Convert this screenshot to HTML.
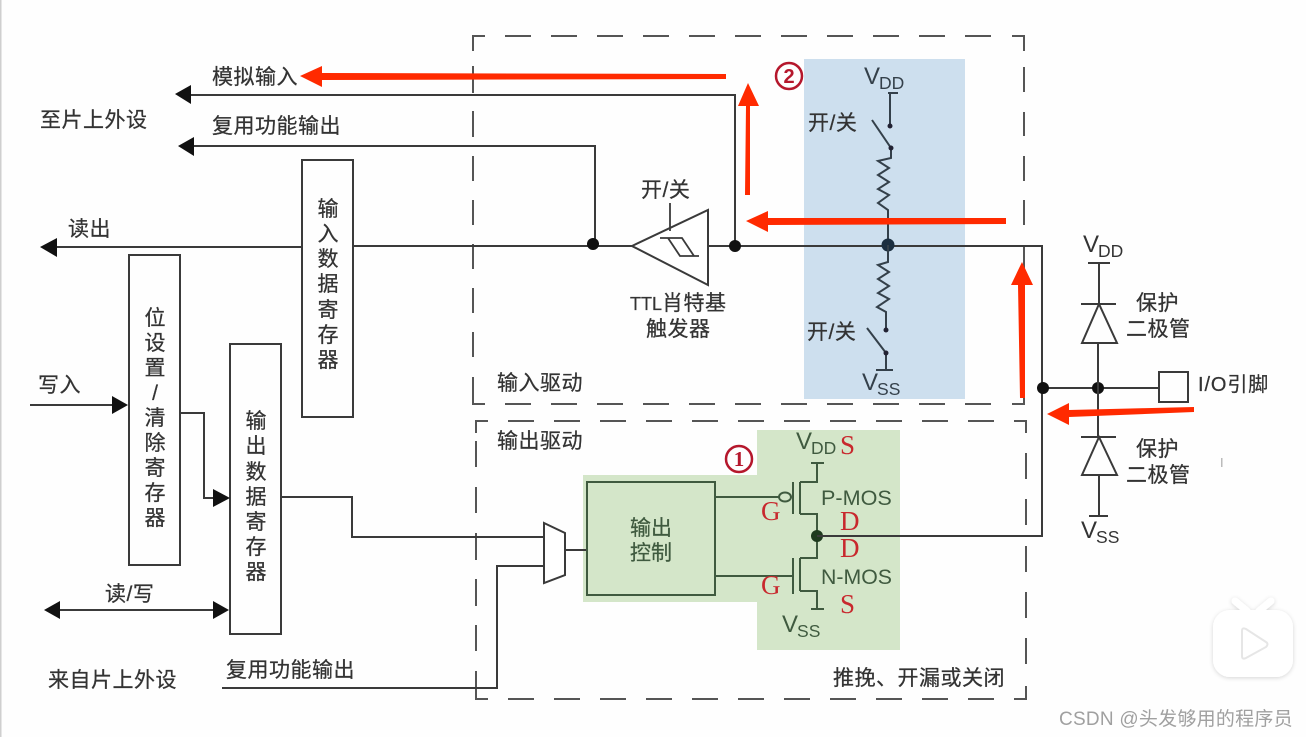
<!DOCTYPE html>
<html><head><meta charset="utf-8"><style>
html,body{margin:0;padding:0;background:#fff}
svg{display:block;position:absolute;left:0;top:0;filter:blur(.35px)}
text{font-family:"Liberation Sans","Noto Sans CJK SC",sans-serif;fill:#333}
.c{font-size:21px;letter-spacing:.5px;stroke:#333;stroke-width:.25px}
.v{font-size:21px;text-anchor:middle;stroke:#333;stroke-width:.25px}
.l{font-size:24px}
.s{font-size:17.5px}
.r{font-family:"Liberation Serif",serif;font-size:27px;fill:#c8282d}
.w{fill:none;stroke:#3a3a3a;stroke-width:2}
.g{fill:none;stroke:#3f5a3f;stroke-width:2}
.d{fill:none;stroke:#555;stroke-width:2}
.k{fill:#111}
.rd{fill:#ff2a00}
</style></head><body>
<svg width="1306" height="737" viewBox="0 0 1306 737" xmlns="http://www.w3.org/2000/svg">
<rect width="1306" height="737" fill="#fefefe"/>
<rect x="0" y="0" width="1.5" height="737" fill="#cfcfcf"/>

<!-- shaded areas -->
<rect x="804" y="59" width="161" height="340" fill="#cddfee"/>
<rect x="583" y="475" width="175" height="127" fill="#d4e6c9"/>
<rect x="757" y="430" width="143" height="220" fill="#d4e6c9"/>

<!-- dashed boxes -->
<path class="d" d="M485 36H473V51M505 36h26M551 36h26M597 36h26M643 36h26M689 36h26M735 36h26M781 36h26M827 36h26M873 36h26M919 36h26M965 36h26M1012 36H1024V51
M473 66V93M473 111V137M473 156V181M473 200V225M473 244V269M473 288V313M473 332V357M473 377V404H485
M505 404h26M551 404h26M597 404h26M643 404h26M689 404h26M735 404h26M781 404h26M827 404h26M873 404h26M919 404h26M965 404h26M1012 404H1024V378
M1024 67V92M1024 112V136M1024 156V181M1024 200V225M1024 245V271M1024 289V315M1024 333V359"/>
<path class="d" d="M488 421H476V433M508 421h26M554 421h26M600 421h26M646 421h26M692 421h26M738 421h26M784 421h26M830 421h26M876 421h26M922 421h26M968 421h26M1014 421H1026V433
M476 441V467M476 487V513M476 533V560M476 579V606M476 625V651M476 671V699H488
M508 699h26M554 699h26M600 699h26M646 699h26M692 699h26M738 699h26M784 699h26M830 699h26M876 699h26M922 699h26M968 699h26M1014 699H1026V686
M1026 453V479M1026 499V525M1026 546V572M1026 592V618M1026 638V664"/>

<!-- registers -->
<rect class="w" x="302" y="160" width="51" height="257" fill="none"/>
<rect class="w" x="129" y="255" width="51" height="310"/>
<rect class="w" x="230" y="344" width="51" height="290"/>

<!-- left wires -->
<path class="w" d="M188 95H735V245"/>
<polygon class="k" points="175,94 191,85 191,104"/>
<path class="w" d="M192 146H595V244"/>
<polygon class="k" points="178,146 194,137 194,156"/>
<path class="w" d="M54 247H302"/>
<polygon class="k" points="40,247 57,238 57,257"/>
<path class="w" d="M353 246H632"/>
<path class="w" d="M30 405H114"/>
<polygon class="k" points="128,405 112,396 112,414"/>
<path class="w" d="M180 413H204V498H216"/>
<polygon class="k" points="230,498 213,489 213,507"/>
<path class="w" d="M58 610H216"/>
<polygon class="k" points="44,610 60,601 60,619"/>
<polygon class="k" points="229,610 213,601 213,619"/>
<path class="w" d="M281 497H352V537H544"/>
<path class="w" d="M222 688H497V566H544"/>

<!-- mux -->
<polygon points="544,523 565,533 565,575 544,583" fill="#fff" stroke="#3a3a3a" stroke-width="2"/>
<path class="w" d="M565 550H587"/>

<!-- output control -->
<rect class="g" x="587" y="482" width="128" height="113"/>
<path class="g" d="M715 497H780"/>
<ellipse cx="785" cy="497" rx="6" ry="4.5" class="g"/>
<path class="g" d="M715 576H793"/>
<path class="g" d="M793 482V514M793 558V594"/>
<path class="g" d="M800 482V514M800 558V591"/>
<path class="g" d="M800 482H817V463M811 463H824"/>
<path class="g" d="M800 514H817V558H800"/>
<path class="g" d="M800 591H817V609M811 609H824"/>
<circle cx="817" cy="536" r="6" fill="#1e3a1e"/>
<path class="w" d="M817 536H1042V245"/>

<!-- main line -->
<path class="w" d="M708 246H1042"/>
<circle cx="593" cy="244" r="6" class="k"/>
<circle cx="735" cy="246" r="6" class="k"/>

<!-- trigger -->
<polygon points="632,246 708,210 708,285" fill="#fff" stroke="#3a3a3a" stroke-width="2"/>
<path class="w" d="M670 203V231M660 238H682L694 256M668 238L680 256H699" style="stroke-width:1.8"/>

<!-- pull-up / pull-down -->
<path class="w" d="M888 93H898M890 93V126" style="stroke:#34404a"/>
<circle cx="890" cy="126" r="2.5" fill="#223"/>
<path class="w" d="M872 120L891 148V158L878 161L889 168L878 175L889 182L878 189L889 195L878 203L888 210V245" style="stroke:#34404a"/>
<circle cx="891" cy="148" r="2.5" fill="#223"/>
<circle cx="888" cy="245" r="6.5" fill="#1c2f40"/>
<path class="w" d="M888 245V262L878 265L889 272L878 279L889 286L878 293L889 299L877 307L886 312V330" style="stroke:#34404a"/>
<circle cx="886" cy="330" r="2.5" fill="#223"/>
<path class="w" d="M867 328L886 353V370M876 370H893" style="stroke:#34404a"/>
<circle cx="886" cy="353" r="2.5" fill="#223"/>

<!-- right side -->
<path class="w" d="M1043 388H1159"/>
<circle cx="1043" cy="388" r="6" class="k"/>
<circle cx="1098" cy="388" r="6" class="k"/>
<rect class="w" x="1159" y="372" width="29" height="30"/>
<path class="w" d="M1088 263H1110M1099 263V304M1081 304H1116M1098 343V437M1081 437H1116M1099 475V516M1089 516H1108"/>
<polygon class="w" points="1099,304 1082,343 1117,343"/>
<polygon class="w" points="1099,437 1082,475 1117,475"/>
<rect x="1221" y="458" width="1.5" height="9" fill="#bbb"/>

<!-- labels -->
<text class="c" x="212" y="84">模拟输入</text>
<text class="c" x="212" y="133">复用功能输出</text>
<text class="c" x="40" y="127">至片上外设</text>
<text class="c" x="68" y="236">读出</text>
<text class="c" x="38" y="392">写入</text>
<text class="c" x="105" y="601">读/写</text>
<text class="c" x="226" y="677">复用功能输出</text>
<text class="c" x="48" y="687">来自片上外设</text>
<text class="c" x="497" y="390">输入驱动</text>
<text class="c" x="497" y="448">输出驱动</text>
<text class="c" x="833" y="685">推挽、开漏或关闭</text>
<text class="c" x="641" y="197">开/关</text>
<text class="c" x="630" y="310"><tspan style="font-size:18px;letter-spacing:0">TTL</tspan>肖特基</text>
<text class="c" x="646" y="336">触发器</text>
<text class="c" x="808" y="130">开/关</text>
<text class="c" x="807" y="339">开/关</text>
<text class="c" x="1136" y="310">保护</text>
<text class="c" x="1126" y="336">二极管</text>
<text class="c" x="1136" y="456">保护</text>
<text class="c" x="1126" y="482">二极管</text>
<text class="c" x="1198" y="391" style="font-size:20px;letter-spacing:.9px">I/O引脚</text>

<g>
<text class="v" x="328" y="216">输</text><text class="v" x="328" y="241">入</text><text class="v" x="328" y="266">数</text><text class="v" x="328" y="291">据</text><text class="v" x="328" y="317">寄</text><text class="v" x="328" y="342">存</text><text class="v" x="328" y="367">器</text>
<text class="v" x="155" y="325">位</text><text class="v" x="155" y="350">设</text><text class="v" x="155" y="375">置</text><text class="v" x="155" y="400">/</text><text class="v" x="155" y="425">清</text><text class="v" x="155" y="450">除</text><text class="v" x="155" y="475">寄</text><text class="v" x="155" y="500">存</text><text class="v" x="155" y="525">器</text>
<text class="v" x="256" y="428">输</text><text class="v" x="256" y="453">出</text><text class="v" x="256" y="479">数</text><text class="v" x="256" y="504">据</text><text class="v" x="256" y="529">寄</text><text class="v" x="256" y="554">存</text><text class="v" x="256" y="579">器</text>
<text class="v" x="651" y="535" style="fill:#3f5a3f;stroke:#3f5a3f">输出</text>
<text class="v" x="651" y="560" style="fill:#3f5a3f;stroke:#3f5a3f">控制</text>
</g>

<!-- V labels -->
<text class="l" x="864" y="84" style="fill:#34404a">V<tspan class="s" dy="5" dx="-1">DD</tspan></text>
<text class="l" x="862" y="390" style="fill:#34404a">V<tspan class="s" dy="5" dx="-1">SS</tspan></text>
<text class="l" x="1083" y="252">V<tspan class="s" dy="5" dx="-1">DD</tspan></text>
<text class="l" x="1081" y="538">V<tspan class="s" dy="5" dx="-1">SS</tspan></text>
<text class="l" x="796" y="449" style="fill:#3f5a3f">V<tspan class="s" dy="5" dx="-1">DD</tspan></text>
<text class="l" x="782" y="632" style="fill:#3f5a3f">V<tspan class="s" dy="5" dx="-1">SS</tspan></text>
<text x="821" y="505" style="font-size:21.6px;fill:#3f5a3f">P-MOS</text>
<text x="821" y="584" style="font-size:21.3px;fill:#3f5a3f">N-MOS</text>

<!-- red letters -->
<text class="r" x="840" y="454">S</text>
<text class="r" x="761" y="520">G</text>
<text class="r" x="840" y="530">D</text>
<text class="r" x="840" y="557">D</text>
<text class="r" x="761" y="594">G</text>
<text class="r" x="840" y="613">S</text>

<!-- numbered circles -->
<circle cx="739" cy="459" r="13" fill="none" stroke="#b5172c" stroke-width="2.5"/>
<text x="739" y="466" text-anchor="middle" style="font-family:'Liberation Serif',serif;font-weight:bold;font-size:21px;fill:#b5172c">1</text>
<circle cx="789" cy="76" r="13" fill="none" stroke="#b5172c" stroke-width="2.5"/>
<text x="789" y="83" text-anchor="middle" style="font-family:'Liberation Sans',sans-serif;font-weight:bold;font-size:20px;fill:#b5172c">2</text>

<!-- red arrows -->
<polygon class="rd" points="300,76 322,66 322,73 726,74 726,79 322,80 322,87"/>
<polygon class="rd" points="748,83 759,106 750,106 750,195 745,195 746,106 738,106"/>
<polygon class="rd" points="746,221 768,211 768,218 1006,218 1006,224 768,225 768,232"/>
<polygon class="rd" points="1022,262 1033,285 1025,285 1025,398 1020,398 1018,285 1011,285"/>
<polygon class="rd" points="1047,414 1069,403 1069,410 1194,407 1194,412 1069,417 1069,425"/>

<!-- bilibili icon -->
<defs><filter id="sh" x="-20%" y="-20%" width="140%" height="140%"><feDropShadow dx="0" dy="1" stdDeviation="2" flood-color="#000" flood-opacity=".16"/></filter></defs>
<g filter="url(#sh)">
<path d="M1235 601L1247 611M1271 601L1259 611" stroke="#fff" stroke-width="7" stroke-linecap="round"/>
<rect x="1213" y="610" width="80" height="67" rx="17" fill="#fff"/>
</g>
<path d="M1242 631Q1242 627 1246 629L1266 642Q1269 644 1266 647L1246 658Q1242 660 1242 656Z" fill="#fff" stroke="#e6e6e6" stroke-width="2"/>

<!-- watermark -->
<text x="1059" y="725" style="font-size:19px;fill:#a0a0a0;letter-spacing:.25px">CSDN @头发够用的程序员</text>
</svg>
</body></html>
